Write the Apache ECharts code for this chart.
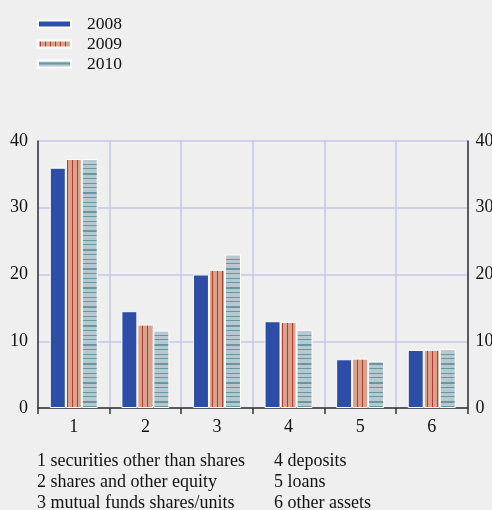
<!DOCTYPE html>
<html>
<head>
<meta charset="utf-8">
<script src="https://cdn.jsdelivr.net/npm/echarts@6/dist/echarts.min.js"></script>
<style>
html,body{margin:0;padding:0;background:#efefef;}
#chart{width:492px;height:510px;}
</style>
</head>
<body>
<div id="chart"></div>
<script>
var categories = ['1', '2', '3', '4', '5', '6'];
var seriesNames = ['2008', '2009', '2010'];
var values2008 = [36.0, 14.5, 20.0, 13.0, 7.3, 8.7];
var values2009 = [37.3, 12.5, 20.7, 12.9, 7.4, 8.7];
var values2010 = [37.3, 11.6, 23.0, 11.7, 7.0, 8.85];
var yTicks = [0, 10, 20, 30, 40];
var footLeft = ['1 securities other than shares', '2 shares and other equity', '3 mutual funds shares/units'];
var footRight = ['4 deposits', '5 loans', '6 other assets'];

function makePattern(w, h, bg, draw) {
  var c = document.createElement('canvas');
  c.width = w; c.height = h;
  var ctx = c.getContext('2d');
  ctx.fillStyle = bg; ctx.fillRect(0, 0, w, h);
  draw(ctx);
  return { image: c, repeat: 'repeat' };
}
var col2008 = '#2c4ea7';
var pat2009 = makePattern(5, 5, '#d9a28c', function (ctx) {
  ctx.fillStyle = '#b33a2c'; ctx.fillRect(2, 0, 1, 5);
});
var pat2010 = makePattern(5, 19, '#b7c8cf', function (ctx) {
  ctx.fillStyle = '#6797a4';
  ctx.fillRect(0, 2, 5, 2);
  ctx.fillRect(0, 7, 5, 1);
  ctx.fillRect(0, 12, 5, 1);
  ctx.fillRect(0, 16, 5, 1);
});

var font = '"Liberation Serif", "Times New Roman", serif';
var chart = echarts.init(document.getElementById('chart'), null, { renderer: 'canvas' });

var graphics = [];
footLeft.forEach(function (t, i) {
  graphics.push({ type: 'text', left: 37, top: 452 + i * 21, style: { text: t, font: '18px ' + font, fill: '#111' } });
});
footRight.forEach(function (t, i) {
  graphics.push({ type: 'text', left: 274, top: 452 + i * 21, style: { text: t, font: '18px ' + font, fill: '#111' } });
});

function barSeries(name, data, color) {
  return {
    name: name, type: 'bar', data: data, barWidth: 16, barGap: '0%',
    itemStyle: { color: color, borderColor: '#ffffff', borderWidth: 1 }
  };
}

var yAxisCommon = {
  type: 'value', min: yTicks[0], max: yTicks[yTicks.length - 1], interval: 10,
  axisLine: { show: true, lineStyle: { color: '#333', width: 1.5 } },
  axisTick: { show: false },
  axisLabel: { color: '#111', fontFamily: font, fontSize: 18 }
};

chart.setOption({
  backgroundColor: '#efefef',
  animation: false,
  textStyle: { fontFamily: font },
  legend: {
    orient: 'vertical', left: 37, top: 15, padding: 0, itemWidth: 33, itemHeight: 7, itemGap: 2,
    icon: 'rect',
    textStyle: { fontFamily: font, fontSize: 17.5, color: '#111', padding: [0, 0, 0, 11] },
    data: seriesNames
  },
  grid: { left: 38, right: 24.5, top: 141, bottom: 102, containLabel: false, outerBoundsMode: 'none' },
  xAxis: {
    type: 'category', data: categories, boundaryGap: true, offset: 2,
    axisLine: { show: true, lineStyle: { color: '#333', width: 1.5 } },
    axisTick: { show: true, length: 6, lineStyle: { color: '#333', width: 1.5 } },
    axisLabel: { color: '#111', fontFamily: font, fontSize: 18, margin: 8 },
    splitLine: { show: true, lineStyle: { color: '#c4c6e8', width: 1.5 } }
  },
  yAxis: [
    Object.assign({}, yAxisCommon, {
      position: 'left',
      axisLabel: Object.assign({}, yAxisCommon.axisLabel, { margin: 10 }),
      splitLine: { show: true, lineStyle: { color: '#c4c6e8', width: 1.5 } }
    }),
    Object.assign({}, yAxisCommon, {
      position: 'right',
      axisLabel: Object.assign({}, yAxisCommon.axisLabel, { margin: 8 }),
      splitLine: { show: false }
    })
  ],
  graphic: graphics,
  series: [
    barSeries('2008', values2008, col2008),
    barSeries('2009', values2009, pat2009),
    barSeries('2010', values2010, pat2010)
  ]
});
</script>
</body>
</html>
